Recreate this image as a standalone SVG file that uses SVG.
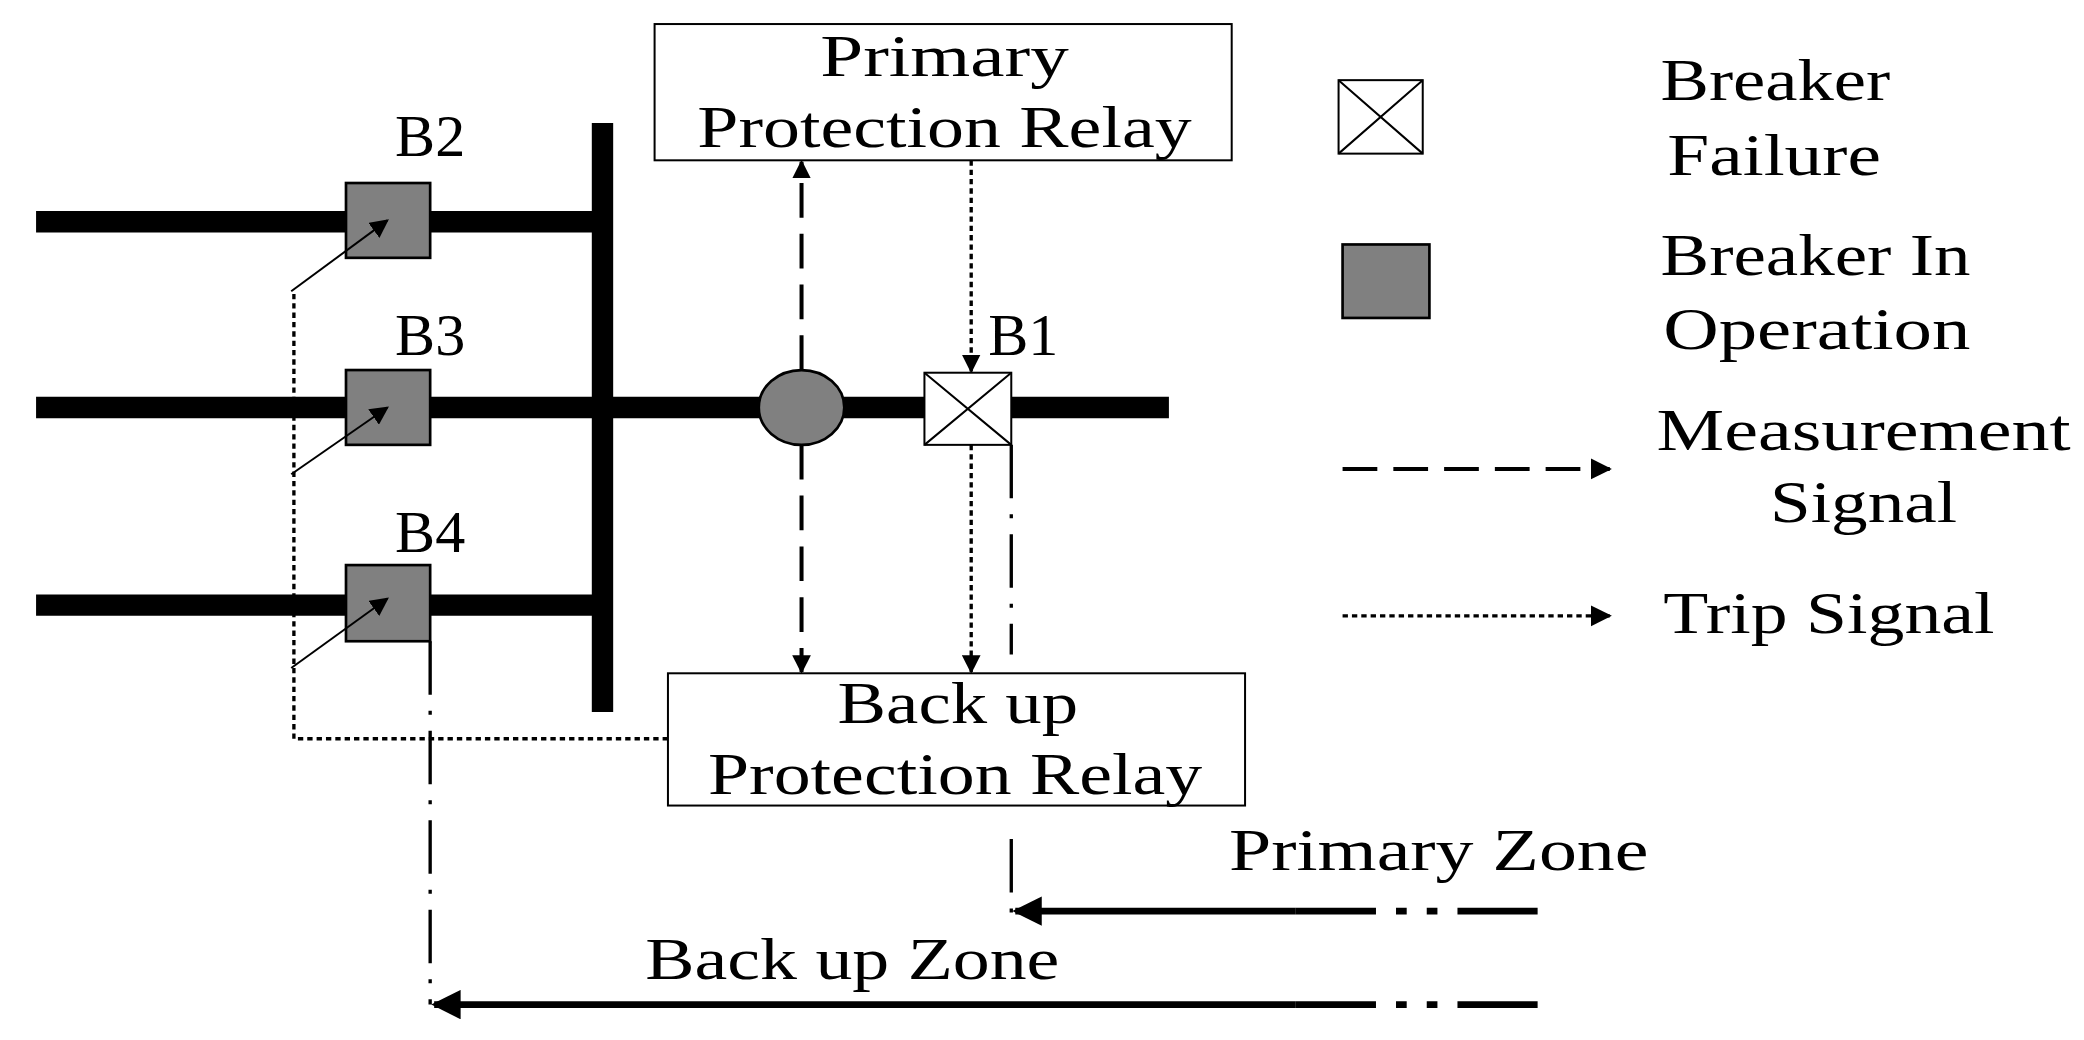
<svg xmlns="http://www.w3.org/2000/svg" width="2084" height="1040" viewBox="0 0 2084 1040">
<defs>
<marker id="ah" viewBox="0 0 10 10" refX="9" refY="5" markerWidth="14" markerHeight="14" markerUnits="userSpaceOnUse" orient="auto"><path d="M0,0 L10,5 L0,10 z" fill="#000"/></marker>
<marker id="ahb" viewBox="0 0 10 10" refX="9" refY="5" markerWidth="22" markerHeight="22" markerUnits="userSpaceOnUse" orient="auto"><path d="M0,0 L10,5 L0,10 z" fill="#000"/></marker>
<marker id="ahs" viewBox="0 0 10 10" refX="9" refY="5" markerWidth="16" markerHeight="16" markerUnits="userSpaceOnUse" orient="auto"><path d="M0,0 L10,5 L0,10 z" fill="#000"/></marker>
</defs>
<style>
text{font-family:"Liberation Serif","DejaVu Serif",serif;font-size:45px;fill:#000}
.box{fill:#fff;stroke:#000;stroke-width:1.5}
.brk{fill:#808080;stroke:#000;stroke-width:2}
.bus{stroke:#000;stroke-width:16;fill:none}
.meas{stroke:#000;stroke-width:3;stroke-dasharray:26,12;fill:none}
.trip{stroke:#000;stroke-width:2.5;stroke-dasharray:4,3;fill:none}
.dd{stroke:#000;stroke-width:2.5;stroke-dasharray:40,12,3,12;fill:none}
</style>
<rect width="2084" height="1040" fill="#fff"/>
<g transform="scale(1.3359)">
<g id="bus">
<line class="bus" x1="451" y1="92" x2="451" y2="533"/>
<line class="bus" x1="27" y1="166" x2="451" y2="166"/>
<line class="bus" x1="27" y1="305" x2="875" y2="305"/>
<line class="bus" x1="27" y1="453" x2="451" y2="453"/>
</g>
<g id="primary"><rect class="box" x="490" y="18" width="432" height="102"/><text x="614" y="57" textLength="186" lengthAdjust="spacingAndGlyphs">Primary</text><text x="522" y="110" textLength="370" lengthAdjust="spacingAndGlyphs">Protection Relay</text></g>
<g id="backup"><rect class="box" x="500" y="504" width="432" height="99"/><text x="627" y="541" textLength="180" lengthAdjust="spacingAndGlyphs">Back up</text><text x="530" y="594" textLength="370" lengthAdjust="spacingAndGlyphs">Protection Relay</text></g>
<g id="B2"><rect class="brk" x="259" y="137" width="63" height="56"/><text x="322" y="117" text-anchor="middle">B2</text></g>
<g id="B3"><rect class="brk" x="259" y="277" width="63" height="56"/><text x="322" y="266" text-anchor="middle">B3</text></g>
<g id="B4"><rect class="brk" x="259" y="423" width="63" height="57"/><text x="322" y="413" text-anchor="middle">B4</text></g>
<g id="B1"><rect class="box" x="692" y="279" width="65" height="54" stroke-width="2"/><path d="M692,279 L757,333 M757,279 L692,333" stroke="#000" stroke-width="1.5"/><text x="766" y="266" text-anchor="middle">B1</text></g>
<g id="ct"><ellipse cx="600" cy="305" rx="32" ry="28" class="brk"/></g>
<g id="legend">
<rect class="box" x="1002" y="60" width="63" height="55" stroke-width="2"/><path d="M1002,60 L1065,115 M1065,60 L1002,115" stroke="#000" stroke-width="1.5"/>
<rect class="brk" x="1005" y="183" width="65" height="55"/>
<text x="1243" y="75" textLength="172" lengthAdjust="spacingAndGlyphs">Breaker</text><text x="1248" y="131" textLength="160" lengthAdjust="spacingAndGlyphs">Failure</text>
<text x="1243" y="206" textLength="232" lengthAdjust="spacingAndGlyphs">Breaker In</text><text x="1245" y="261" textLength="230" lengthAdjust="spacingAndGlyphs">Operation</text>
<text x="1240" y="337" textLength="310" lengthAdjust="spacingAndGlyphs">Measurement</text><text x="1325" y="391" textLength="140" lengthAdjust="spacingAndGlyphs">Signal</text>
<text x="1245" y="474" textLength="248" lengthAdjust="spacingAndGlyphs">Trip Signal</text>
<line class="meas" x1="1005" y1="351" x2="1205" y2="351" marker-end="url(#ahs)" stroke-dasharray="16,8"/>
<line class="trip" x1="1005" y1="461" x2="1205" y2="461" marker-end="url(#ahs)"/>
</g>
<g id="zones">
<text x="920" y="651" textLength="314" lengthAdjust="spacingAndGlyphs">Primary Zone</text>
<text x="483" y="733" textLength="310" lengthAdjust="spacingAndGlyphs">Back up Zone</text>
</g>
<g id="connectors">
<line class="meas" x1="600" y1="277" x2="600" y2="121" marker-end="url(#ah)"/>
<line class="meas" x1="600" y1="333" x2="600" y2="503" marker-end="url(#ah)"/>
<line class="trip" x1="727" y1="120" x2="727" y2="278" marker-end="url(#ah)"/>
<line class="trip" x1="727" y1="333" x2="727" y2="503" marker-end="url(#ah)"/>
<polyline class="trip" points="500,553 220,553 220,220"/>
<line x1="218" y1="218" x2="290" y2="165" stroke="#000" stroke-width="1.5" marker-end="url(#ah)"/>
<line x1="218" y1="355" x2="290" y2="305" stroke="#000" stroke-width="1.5" marker-end="url(#ah)"/>
<line x1="218" y1="500" x2="290" y2="448" stroke="#000" stroke-width="1.5" marker-end="url(#ah)"/>
<line class="dd" x1="757" y1="333" x2="757" y2="490"/>
<line class="dd" x1="757" y1="628" x2="757" y2="685"/>
<line class="dd" x1="322" y1="480" x2="322" y2="752"/>
<line x1="970" y1="682" x2="760" y2="682" stroke="#000" stroke-width="5" marker-end="url(#ahb)"/>
<line x1="970" y1="682" x2="1172" y2="682" stroke="#000" stroke-width="5" stroke-dasharray="60,15,8,15,8,15,60"/>
<line x1="970" y1="752" x2="325" y2="752" stroke="#000" stroke-width="5" marker-end="url(#ahb)"/>
<line x1="970" y1="752" x2="1172" y2="752" stroke="#000" stroke-width="5" stroke-dasharray="60,15,8,15,8,15,60"/>
</g>
</g>
</svg>
